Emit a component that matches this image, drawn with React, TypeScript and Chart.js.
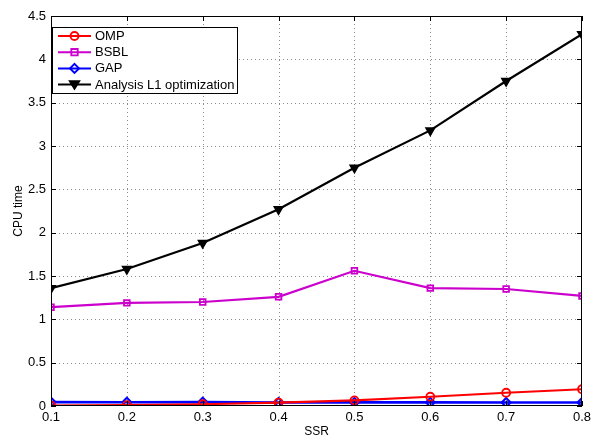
import React, { useEffect, useRef } from "react";
import { Chart, registerables } from "chart.js";

Chart.register(...registerables);

const ssr = [0.1, 0.2, 0.3, 0.4, 0.5, 0.6, 0.7, 0.8];
const omp = [0.005, 0.01, 0.02, 0.04, 0.065, 0.107, 0.153, 0.193];
const bsbl = [1.14, 1.19, 1.2, 1.26, 1.56, 1.36, 1.35, 1.27];
const gap = [0.045, 0.043, 0.045, 0.04, 0.042, 0.042, 0.04, 0.04];
const l1 = [1.36, 1.58, 1.88, 2.27, 2.75, 3.18, 3.75, 4.29];
const seriesNames = ["OMP", "BSBL", "GAP", "Analysis L1 optimization"];
const yTicks = [0, 0.5, 1, 1.5, 2, 2.5, 3, 3.5, 4, 4.5];

const FONT = "Liberation Sans, Arial, sans-serif";

const gridPlugin = {
  id: "gridPlugin",
  beforeDatasetsDraw(chart: any) {
    const { ctx, chartArea: a } = chart;
    const xs = chart.scales.x;
    const ys = chart.scales.y;
    ctx.save();
    ctx.strokeStyle = "#8a8a8a";
    ctx.lineWidth = 1;
    ctx.setLineDash([1, 3]);
    ctx.beginPath();
    ssr.slice(1, -1).forEach((v) => {
      const px = Math.round(xs.getPixelForValue(v)) + 0.5;
      ctx.moveTo(px, a.top);
      ctx.lineTo(px, a.bottom);
    });
    yTicks.slice(1, -1).forEach((v) => {
      const py = Math.round(ys.getPixelForValue(v)) + 0.5;
      ctx.moveTo(a.left, py);
      ctx.lineTo(a.right, py);
    });
    ctx.stroke();
    ctx.restore();
  },
};

const boxPlugin = {
  id: "boxPlugin",
  afterDraw(chart: any) {
    const { ctx, chartArea: a } = chart;
    ctx.save();
    ctx.strokeStyle = "#000";
    ctx.lineWidth = 1;
    ctx.strokeRect(Math.round(a.left) + 0.5, Math.round(a.top) + 0.5, Math.round(a.right - a.left) - 1, Math.round(a.bottom - a.top) - 1);
    const xs = chart.scales.x;
    const ys = chart.scales.y;
    ctx.beginPath();
    ssr.forEach((v) => {
      const px = Math.round(xs.getPixelForValue(v)) + 0.5;
      ctx.moveTo(px, a.bottom);
      ctx.lineTo(px, a.bottom - 5);
      ctx.moveTo(px, a.top);
      ctx.lineTo(px, a.top + 5);
    });
    yTicks.forEach((v) => {
      const py = Math.round(ys.getPixelForValue(v)) + 0.5;
      ctx.moveTo(a.left, py);
      ctx.lineTo(a.left + 5, py);
      ctx.moveTo(a.right, py);
      ctx.lineTo(a.right - 5, py);
    });
    ctx.stroke();

    // legend
    const lx = Math.round(a.left) + 1, ly = 27, lw = 185, lh = 66;
    ctx.fillStyle = "#fff";
    ctx.fillRect(lx, ly, lw, lh);
    ctx.strokeStyle = "#000";
    ctx.lineWidth = 1;
    ctx.strokeRect(lx + 0.5, ly + 0.5, lw, lh);
    ctx.font = `13px ${FONT}`;
    ctx.textBaseline = "middle";
    chart.data.datasets.forEach((ds: any, i: number) => {
      const cy = ly + 9 + i * 16.2;
      ctx.strokeStyle = ds.borderColor;
      ctx.lineWidth = 2;
      ctx.beginPath();
      ctx.moveTo(lx + 6, cy);
      ctx.lineTo(lx + 39, cy);
      ctx.stroke();
      ctx.lineWidth = ds.pointBorderWidth;
      ctx.strokeStyle = ds.pointBorderColor;
      ctx.fillStyle = ds.pointBackgroundColor;
      const r = ds.pointRadius;
      const cx = lx + 22.5;
      ctx.beginPath();
      if (ds.pointStyle === "circle") {
        ctx.arc(cx, cy, r, 0, Math.PI * 2);
      } else if (ds.pointStyle === "rect") {
        ctx.rect(cx - r * 0.8, cy - r * 0.8, r * 1.6, r * 1.6);
      } else if (ds.pointStyle === "rectRot") {
        ctx.moveTo(cx, cy - r);
        ctx.lineTo(cx + r, cy);
        ctx.lineTo(cx, cy + r);
        ctx.lineTo(cx - r, cy);
        ctx.closePath();
      } else {
        ctx.moveTo(cx - r, cy - r * 0.7);
        ctx.lineTo(cx + r, cy - r * 0.7);
        ctx.lineTo(cx, cy + r * 0.9);
        ctx.closePath();
      }
      ctx.fill();
      ctx.stroke();
      ctx.fillStyle = "#000";
      ctx.fillText(seriesNames[i], lx + 43, cy + 0.5);
    });
    ctx.restore();
  },
};

export default function App() {
  const ref = useRef<HTMLCanvasElement>(null);
  useEffect(() => {
    const mk = (data: number[]) => data.map((y, i) => ({ x: ssr[i], y }));
    const chart = new Chart(ref.current!, {
      type: "line",
      data: {
        datasets: [
          {
            label: seriesNames[0], data: mk(omp), borderColor: "#ff0000", borderWidth: 2.2,
            pointStyle: "circle", pointRadius: 4, pointBorderWidth: 1.8,
            pointBorderColor: "#ff0000", pointBackgroundColor: "rgba(255,255,255,0)",
          },
          {
            label: seriesNames[1], data: mk(bsbl), borderColor: "#cc00cc", borderWidth: 2.2,
            pointStyle: "rect", pointRadius: 4, pointBorderWidth: 1.8,
            pointBorderColor: "#cc00cc", pointBackgroundColor: "rgba(255,255,255,0)",
          },
          {
            label: seriesNames[2], data: mk(gap), borderColor: "#0000ff", borderWidth: 2.6,
            pointStyle: "rectRot", pointRadius: 4.5, pointBorderWidth: 2,
            pointBorderColor: "#0000ff", pointBackgroundColor: "rgba(255,255,255,0)",
          },
          {
            label: seriesNames[3], data: mk(l1), borderColor: "#000000", borderWidth: 2.2,
            pointStyle: "triangle", pointRotation: 180, pointRadius: 5, pointBorderWidth: 1.5,
            pointBorderColor: "#000000", pointBackgroundColor: "#000000",
          },
        ],
      },
      options: {
        animation: false,
        responsive: false,
        maintainAspectRatio: false,
        layout: { padding: { left: 0, right: 0, top: 16, bottom: 0 } },
        plugins: { legend: { display: false }, tooltip: { enabled: false } },
        scales: {
          x: {
            type: "linear", min: 0.1, max: 0.8,
            afterBuildTicks: (s: any) => { s.ticks = ssr.map((v) => ({ value: v })); },
            afterFit: (s: any) => { s.height = 33; s.paddingRight = 9; s.paddingLeft = 0; },
            grid: { display: false, drawTicks: false },
            border: { display: false },
            ticks: {
              color: "#000", padding: 4, font: { family: FONT, size: 13 },
              callback: (v: any) => String(Math.round(v * 10) / 10),
              maxRotation: 0, autoSkip: false,
            },
            title: {
              display: true, text: "SSR", color: "#000",
              font: { family: FONT, size: 12 }, padding: { top: 0, bottom: 0 },
            },
          },
          y: {
            min: 0, max: 4.5,
            afterBuildTicks: (s: any) => { s.ticks = yTicks.map((v) => ({ value: v })); },
            afterFit: (s: any) => { s.width = 51; s.paddingTop = 0; s.paddingBottom = 0; },
            grid: { display: false, drawTicks: false },
            border: { display: false },
            ticks: {
              color: "#000", padding: 5, font: { family: FONT, size: 13 },
              callback: (v: any) => String(v),
            },
            title: {
              display: true, text: "CPU time", color: "#000",
              font: { family: FONT, size: 12 }, padding: { top: 11, bottom: 4 },
            },
          },
        },
      },
      plugins: [gridPlugin, boxPlugin],
    });
    return () => chart.destroy();
  }, []);
  return (
    <div style={{ position: "fixed", left: 0, top: 0, width: 591, height: 439, background: "#fff" }}>
      <canvas ref={ref} width={591} height={439} style={{ width: 591, height: 439 }} />
    </div>
  );
}
